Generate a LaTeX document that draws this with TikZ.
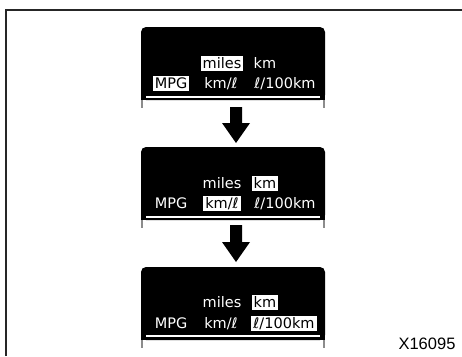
\documentclass[tikz,border=0pt]{standalone}
\usepackage{fontspec}
\setmainfont{DejaVu Sans}
\newfontfamily\labelfont{Liberation Sans}
\begin{document}
\begin{tikzpicture}[x=1pt,y=-1pt,
  disp/.style={font=\fontsize{14.5}{15}\selectfont, text=white, inner sep=2pt, text height=10.5pt, text depth=0.5pt},
  hl/.style={disp, fill=white, text=black},
  panel/.style={fill=black},
  baseline/.style={draw=white, line width=1.5pt},
  leg/.style={draw=black!45, line width=1.6pt},
  bigarrow/.style={fill=black}]
\useasboundingbox (0,0) rectangle (462,356);
\draw[line width=1.3pt, black!85] (6,356) -- (6,10) -- (462,10);

% panel 1
\begin{scope}[shift={(0,27)}]
  \fill[panel, rounded corners=5pt] (141,0) rectangle (325,73);
  \fill[panel] (141,10) rectangle (325,73);
  \draw[baseline] (146,70) -- (320,70);
  \draw[leg] (142,73) -- (142,81);
  \draw[leg] (324,73) -- (324,81);
  \node[hl]   (a1) at (222,36) {miles};
  \node[disp] (a2) at (265,36) {km};
  \node[hl]   (a3) at (171,56) {MPG};
  \node[disp] (a4) at (221,56) {km/ℓ};
  \node[disp] (a5) at (285,56) {ℓ/100km};
  \fill[bigarrow] (230,80) -- (242,80) -- (242,96) -- (250,96) -- (236,116) -- (222,96) -- (230,96) -- cycle;
\end{scope}

% panel 2
\begin{scope}[shift={(0,147)}]
  \fill[panel, rounded corners=5pt] (141,0) rectangle (325,73);
  \fill[panel] (141,10) rectangle (325,73);
  \draw[baseline] (146,70) -- (320,70);
  \draw[leg] (142,73) -- (142,81);
  \draw[leg] (324,73) -- (324,81);
  \node[disp] (b1) at (222,36) {miles};
  \node[hl]   (b2) at (265,36) {km};
  \node[disp] (b3) at (171,56) {MPG};
  \node[hl]   (b4) at (222,56) {km/ℓ};
  \node[disp] (b5) at (285,56) {ℓ/100km};
  \fill[bigarrow] (230,78) -- (242,78) -- (242,95) -- (250,95) -- (236,115) -- (222,95) -- (230,95) -- cycle;
\end{scope}

% panel 3
\begin{scope}[shift={(0,267)}]
  \fill[panel, rounded corners=5pt] (141,0) rectangle (325,73);
  \fill[panel] (141,10) rectangle (325,73);
  \draw[baseline] (146,69) -- (320,69);
  \draw[leg] (142,73) -- (142,81);
  \draw[leg] (324,73) -- (324,81);
  \node[disp] (c1) at (222,35) {miles};
  \node[hl]   (c2) at (265,35) {km};
  \node[disp] (c3) at (171,56) {MPG};
  \node[disp] (c4) at (221,56) {km/ℓ};
  \node[hl]   (c5) at (284,56) {ℓ/100km};
\end{scope}

\node[font=\labelfont\fontsize{16.5}{16.5}\selectfont, anchor=base, inner sep=0pt] (code) at (427,349) {X16095};
\end{tikzpicture}
\end{document}
